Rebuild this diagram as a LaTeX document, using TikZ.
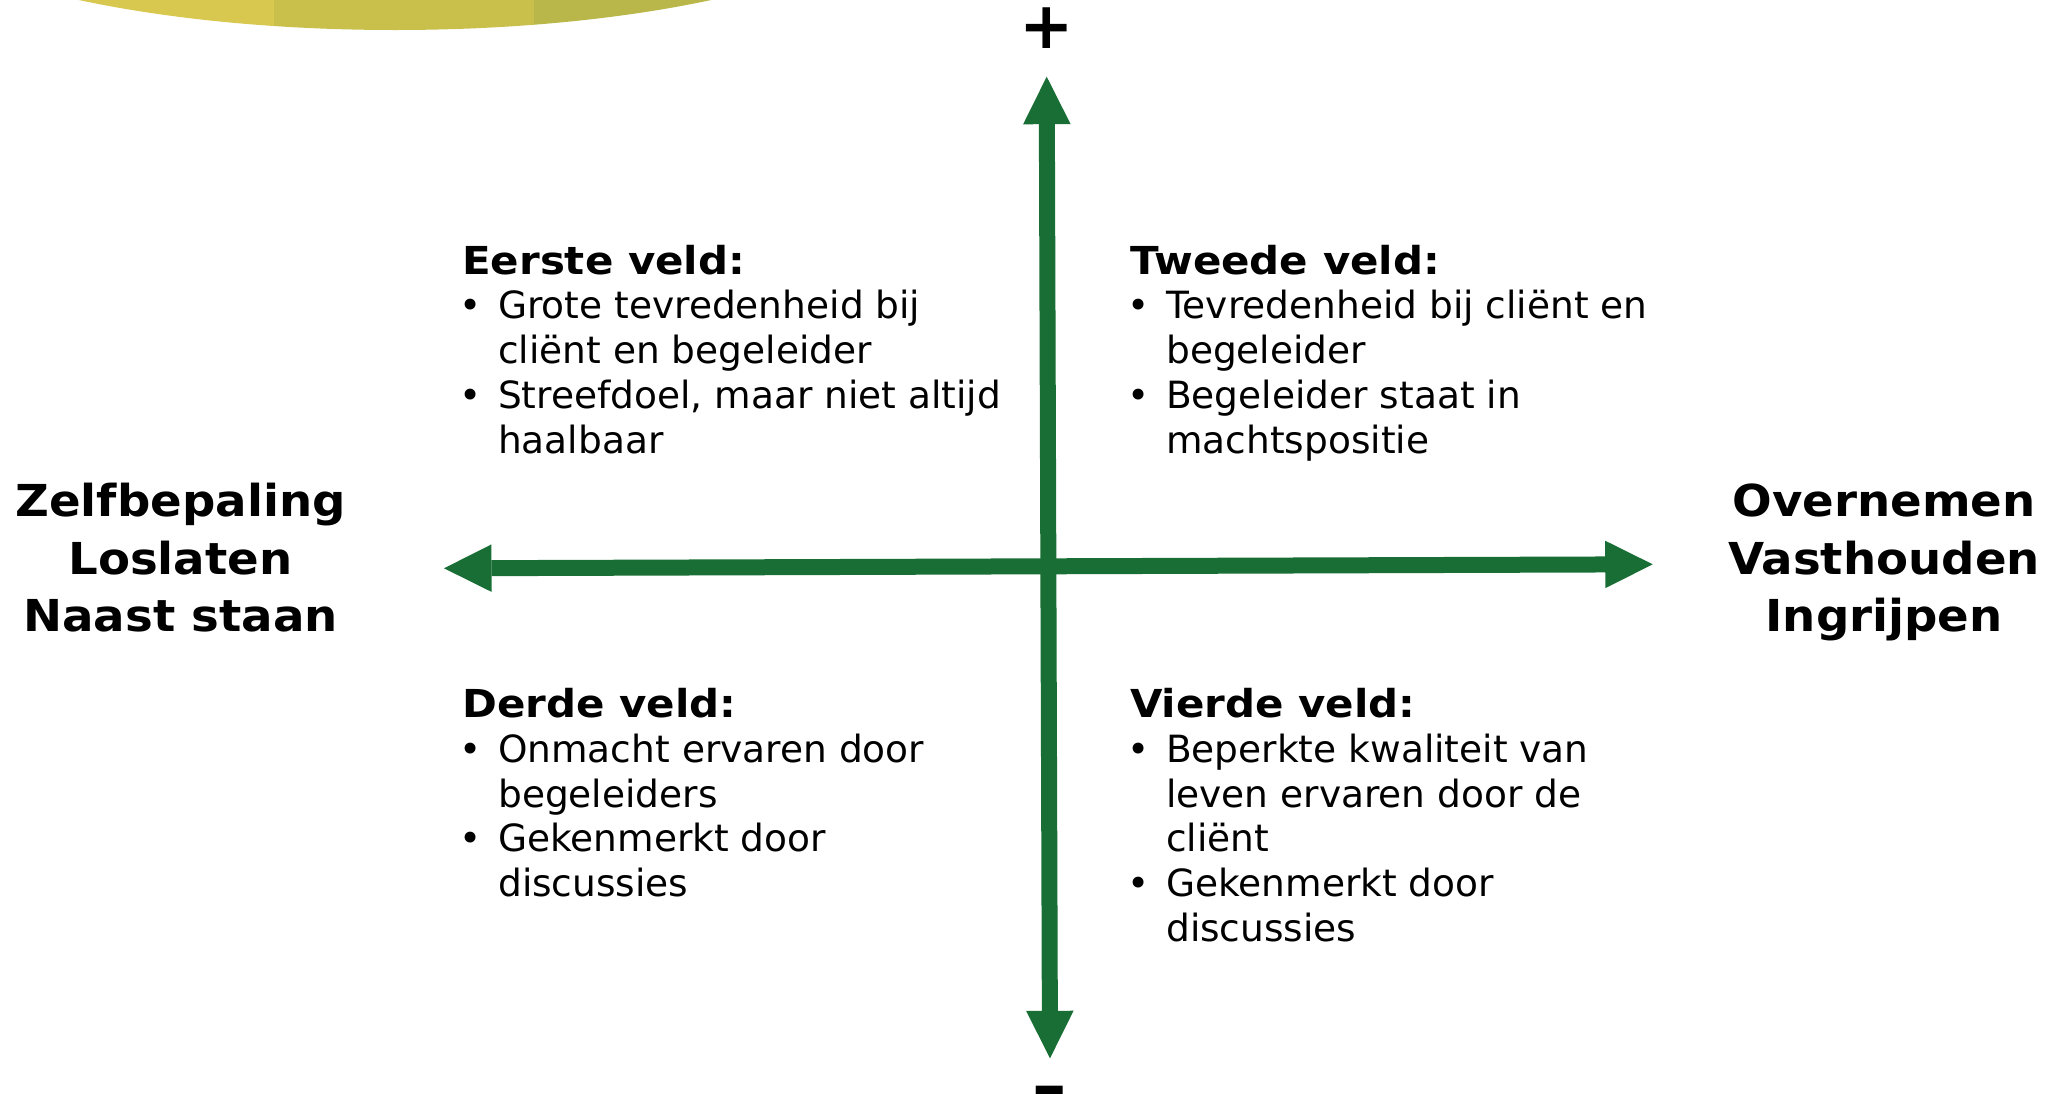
\documentclass[tikz,border=0pt]{standalone}
\usepackage{fontspec}
\setmainfont{DejaVu Sans}
\newfontfamily\hfont{DejaVu Sans}[FakeStretch=1.09]
\newfontfamily\sfontx{DejaVu Sans}[FakeStretch=1.06]
\newfontfamily\mfont{DejaVu Sans}[FakeStretch=1.35]
\usetikzlibrary{arrows.meta}
\definecolor{axgreen}{RGB}{24,110,52}
\definecolor{arcA}{RGB}{217,200,80}
\definecolor{arcB}{RGB}{201,191,75}
\definecolor{arcC}{RGB}{185,183,74}
\newcommand\bul{\makebox[36pt][l]{\makebox[16pt][c]{•}}}
\newcommand\fhead[1]{\multicolumn{2}{@{}l@{}}{\fontsize{38.5}{44.8}\selectfont\hfont\bfseries #1}}
\begin{document}
\begin{tikzpicture}[x=1pt,y=-1pt,
  axis/.style={line width=16pt, draw=axgreen, arrows={Triangle[length=47.5pt,width=47.5pt,line width=0pt]-Triangle[length=47.5pt,width=47.5pt,line width=0pt]}},
  field/.style={anchor=base west, inner sep=0pt, font=\fontsize{37.5}{44.8}\selectfont},
  side/.style={anchor=base, inner sep=0pt, font=\fontsize{44}{57.5}\selectfont\sfontx\bfseries},
  sign/.style={inner sep=0pt, font=\fontsize{65}{70}\selectfont\bfseries}]
\useasboundingbox (0,0) rectangle (2058,1093);
\clip (0,0) rectangle (2058,1093);
% decorative arc at the top
\begin{scope}
  \clip (0,0) rectangle (274,200);
  \fill[arcA] (395,-120) ellipse [x radius=527pt, y radius=150pt];
\end{scope}
\begin{scope}
  \clip (274,0) rectangle (534,200);
  \fill[arcB] (395,-120) ellipse [x radius=527pt, y radius=150pt];
\end{scope}
\begin{scope}
  \clip (534,0) rectangle (1000,200);
  \fill[arcC] (395,-120) ellipse [x radius=527pt, y radius=150pt];
\end{scope}
% axes
\coordinate (L) at (444,568.3);
\coordinate (R) at (1652.7,564.3);
\coordinate (T) at (1046.7,76.7);
\coordinate (B) at (1050,1058.3);
\draw[axis] (L) -- (R);
\draw[axis] (T) -- (B);
\node[sign] (plus) at (1047,28) {+};
\node[sign, anchor=base, font=\fontsize{65}{70}\selectfont\mfont\bfseries] (minus) at (1050,1109) {-};
% side labels
\node[side] (left) at (180.5,516.5) {\begin{tabular}[t]{@{}c@{}}Zelfbepaling\\Loslaten\\Naast staan\end{tabular}};
\node[side] (right) at (1884,516.5) {\begin{tabular}[t]{@{}c@{}}Overnemen\\Vasthouden\\Ingrijpen\end{tabular}};
% fields
\node[field] (q1) at (462,274) {\begin{tabular}[t]{@{}l@{}l@{}}
\fhead{Eerste veld:}\\
\bul & Grote tevredenheid bij\\
 & cliënt en begeleider\\
\bul & Streefdoel, maar niet altijd\\
 & haalbaar
\end{tabular}};
\node[field] (q2) at (1130,274) {\begin{tabular}[t]{@{}l@{}l@{}}
\fhead{Tweede veld:}\\
\bul & Tevredenheid bij cliënt en\\
 & begeleider\\
\bul & Begeleider staat in\\
 & machtspositie
\end{tabular}};
\node[field] (q3) at (462,717.5) {\begin{tabular}[t]{@{}l@{}l@{}}
\fhead{Derde veld:}\\
\bul & Onmacht ervaren door\\
 & begeleiders\\
\bul & Gekenmerkt door\\
 & discussies
\end{tabular}};
\node[field] (q4) at (1130,717.5) {\begin{tabular}[t]{@{}l@{}l@{}}
\fhead{Vierde veld:}\\
\bul & Beperkte kwaliteit van\\
 & leven ervaren door de\\
 & cliënt\\
\bul & Gekenmerkt door\\
 & discussies
\end{tabular}};
\end{tikzpicture}
\end{document}
